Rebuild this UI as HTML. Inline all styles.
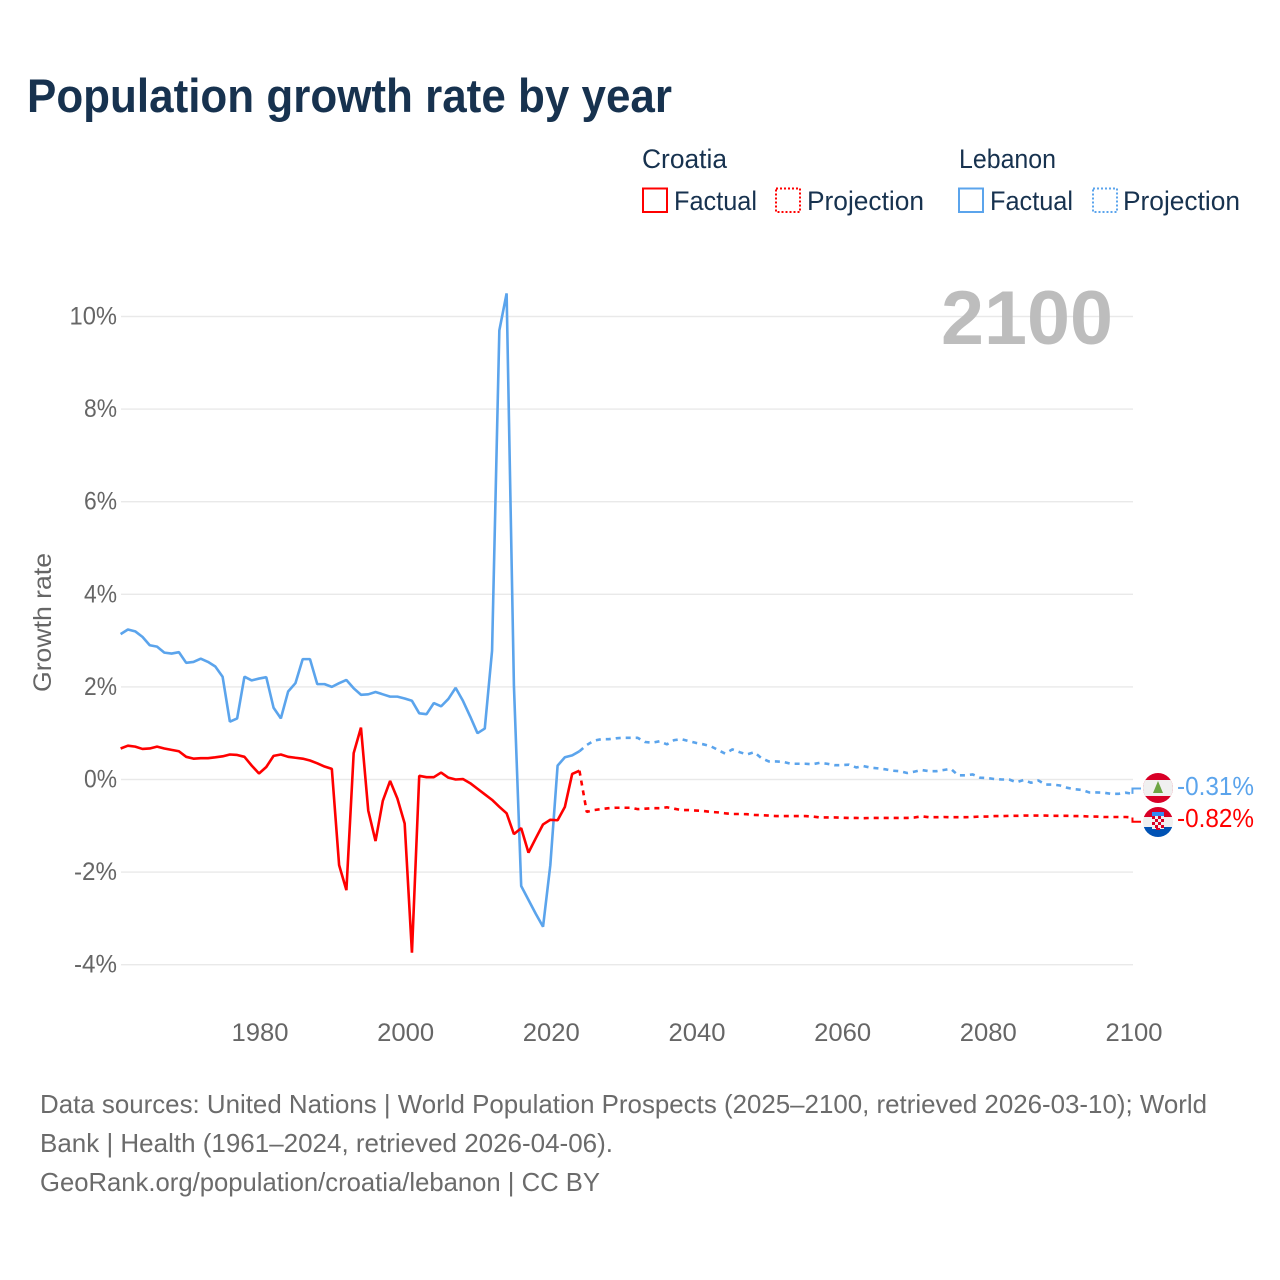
<!DOCTYPE html>
<html lang="en">
<head>
<meta charset="utf-8">
<title>Population growth rate by year</title>
<style>
html,body{margin:0;padding:0;background:#fff;}
svg{display:block;font-family:"Liberation Sans",sans-serif;}
</style>
</head>
<body>
<svg id="chart" width="1280" height="1280" viewBox="0 0 1280 1280" xmlns="http://www.w3.org/2000/svg">
  <defs>
    <clipPath id="flag-clip-lb"><circle cx="1158" cy="788" r="15"/></clipPath>
    <clipPath id="flag-clip-hr"><circle cx="1158" cy="822" r="15"/></clipPath>
  </defs>
  <text x="27" y="112" font-size="47" font-weight="700" fill="#17324f" textLength="645" lengthAdjust="spacingAndGlyphs">Population growth rate by year</text>

  <g font-size="27" fill="#17324f">
    <text x="642" y="168" textLength="85" lengthAdjust="spacingAndGlyphs">Croatia</text>
    <text x="959" y="168" textLength="97" lengthAdjust="spacingAndGlyphs">Lebanon</text>
    <rect x="643" y="188.5" width="24" height="23.5" fill="none" stroke="#ff0000" stroke-width="2"/>
    <text x="674" y="210" textLength="83" lengthAdjust="spacingAndGlyphs">Factual</text>
    <rect x="776" y="188.5" width="24" height="23.5" fill="none" stroke="#ff0000" stroke-width="2" stroke-dasharray="2,2"/>
    <text x="807" y="210" textLength="117" lengthAdjust="spacingAndGlyphs">Projection</text>
    <rect x="959" y="188.5" width="24" height="23.5" fill="none" stroke="#5ba4ec" stroke-width="2"/>
    <text x="990" y="210" textLength="83" lengthAdjust="spacingAndGlyphs">Factual</text>
    <rect x="1093" y="188.5" width="24" height="23.5" fill="none" stroke="#5ba4ec" stroke-width="2" stroke-dasharray="2,2"/>
    <text x="1123" y="210" textLength="117" lengthAdjust="spacingAndGlyphs">Projection</text>
  </g>

  <g id="grid"></g>
  <text x="941" y="344" font-size="76" font-weight="700" fill="#bdbdbd" textLength="172" lengthAdjust="spacingAndGlyphs">2100</text>
  <text transform="translate(51,692) rotate(-90)" x="0" y="0" font-size="25" fill="#666666" textLength="139" lengthAdjust="spacingAndGlyphs">Growth rate</text>
  <g id="y-ticks" font-size="25" fill="#666666"></g>
  <g id="x-ticks" font-size="25" fill="#666666"></g>
  <g id="series"></g>

  <g clip-path="url(#flag-clip-lb)">
    <rect x="1143" y="773" width="30" height="30" fill="#d80027"/>
    <rect x="1143" y="780" width="30" height="16" fill="#f0f0f0"/>
    <polygon points="1158,781 1163,793 1153,793" fill="#6da544"/>
  </g>
  <g clip-path="url(#flag-clip-hr)">
    <rect x="1143" y="807" width="30" height="10" fill="#d80027"/>
    <rect x="1143" y="817" width="30" height="10" fill="#f0f0f0"/>
    <rect x="1143" y="827" width="30" height="10" fill="#0052b4"/>
    <rect x="1152" y="812" width="12" height="4" fill="#338af3"/>
    <rect x="1152" y="816" width="12" height="13" fill="#f0f0f0"/>
    <path d="M1152 816h3v3h-3zM1158 816h3v3h-3zM1155 819h3v3h-3zM1161 819h3v3h-3zM1152 822h3v3h-3zM1158 822h3v3h-3zM1155 825h3v3h-3zM1161 825h3v3h-3zM1156 828h4v2h-4z" fill="#d80027"/>
  </g>
  <text x="1177" y="795" font-size="26" fill="#5ba4ec" textLength="77" lengthAdjust="spacingAndGlyphs">-0.31%</text>
  <text x="1177" y="827" font-size="26" fill="#ff0000" textLength="77" lengthAdjust="spacingAndGlyphs">-0.82%</text>

  <g font-size="26" fill="#6b6b6b">
    <text x="40" y="1113" textLength="1167" lengthAdjust="spacingAndGlyphs">Data sources: United Nations | World Population Prospects (2025–2100, retrieved 2026-03-10); World</text>
    <text x="40" y="1152" textLength="573" lengthAdjust="spacingAndGlyphs">Bank | Health (1961–2024, retrieved 2026-04-06).</text>
    <text x="40" y="1191" textLength="560" lengthAdjust="spacingAndGlyphs">GeoRank.org/population/croatia/lebanon | CC BY</text>
  </g>
</svg>
<script>
const firstFactualYear = 1961;
const firstProjectionYear = 2025;
const yTickValues = [10, 8, 6, 4, 2, 0, -2, -4];
const yTickLabels = ["10%", "8%", "6%", "4%", "2%", "0%", "-2%", "-4%"];
const xTickLabels = ["1980", "2000", "2020", "2040", "2060", "2080", "2100"];

const croatiaFactual = [
  0.67, 0.73, 0.71, 0.66, 0.67, 0.71, 0.67, 0.64, 0.61, 0.49,
  0.45, 0.46, 0.46, 0.48, 0.50, 0.54, 0.53, 0.49, 0.30, 0.13,
  0.27, 0.51, 0.54, 0.49, 0.47, 0.45, 0.41, 0.35, 0.28, 0.23,
  -1.85, -2.39, 0.57, 1.12, -0.67, -1.33, -0.46, -0.03, -0.41, -0.95,
  -3.74, 0.08, 0.05, 0.05, 0.15, 0.04, 0.00, 0.01, -0.08, -0.20,
  -0.32, -0.44, -0.59, -0.73, -1.18, -1.05, -1.58, -1.27, -0.97, -0.87,
  -0.88, -0.59, 0.12, 0.19
];
const croatiaProjection = [
  -0.70, -0.66, -0.64, -0.62, -0.61, -0.61, -0.61, -0.64, -0.63, -0.62,
  -0.62, -0.60, -0.63, -0.66, -0.66, -0.67, -0.68, -0.70, -0.71, -0.73,
  -0.745, -0.745, -0.75, -0.765, -0.77, -0.78, -0.79, -0.79, -0.79, -0.79,
  -0.79, -0.80, -0.82, -0.82, -0.82, -0.825, -0.83, -0.83, -0.835, -0.83,
  -0.83, -0.83, -0.83, -0.83, -0.83, -0.82, -0.795, -0.815, -0.815, -0.81,
  -0.815, -0.815, -0.815, -0.81, -0.80, -0.80, -0.79, -0.79, -0.785, -0.785,
  -0.78, -0.78, -0.78, -0.78, -0.785, -0.785, -0.785, -0.79, -0.79, -0.80,
  -0.80, -0.81, -0.81, -0.81, -0.81, -0.82
];
const lebanonFactual = [
  3.14, 3.24, 3.20, 3.08, 2.90, 2.87, 2.74, 2.72, 2.75, 2.52,
  2.54, 2.61, 2.54, 2.44, 2.22, 1.25, 1.32, 2.22, 2.14, 2.18,
  2.21, 1.55, 1.32, 1.90, 2.08, 2.60, 2.60, 2.06, 2.06, 2.00,
  2.08, 2.15, 1.97, 1.83, 1.84, 1.89, 1.84, 1.79, 1.79, 1.75,
  1.70, 1.43, 1.41, 1.65, 1.58, 1.74, 1.98, 1.70, 1.36, 1.00,
  1.10, 2.78, 9.70, 10.50, 2.04, -2.30, -2.60, -2.90, -3.18, -1.85,
  0.30, 0.48, 0.52, 0.61
];
const lebanonProjection = [
  0.745, 0.84, 0.87, 0.87, 0.89, 0.90, 0.90, 0.90, 0.81, 0.795,
  0.825, 0.76, 0.85, 0.87, 0.83, 0.79, 0.76, 0.72, 0.64, 0.56,
  0.65, 0.59, 0.54, 0.59, 0.46, 0.39, 0.39, 0.38, 0.34, 0.34,
  0.34, 0.33, 0.36, 0.34, 0.31, 0.31, 0.32, 0.26, 0.29, 0.255,
  0.24, 0.22, 0.19, 0.18, 0.14, 0.17, 0.205, 0.18, 0.18, 0.205,
  0.23, 0.09, 0.09, 0.11, 0.04, 0.03, 0.01, 0.00, 0.00, -0.06,
  -0.01, -0.07, -0.02, -0.11, -0.11, -0.13, -0.18, -0.21, -0.225, -0.28,
  -0.28, -0.285, -0.31, -0.31, -0.285, -0.31
];

const SVG_NS = "http://www.w3.org/2000/svg";
const RED = "#ff0000";
const BLUE = "#5ba4ec";
function xScale(year) { return 260 + (year - 1980) * 7.283; }
function xSeries(year) { return xScale(year) - 1; }
function yScale(value) { return 779.5 - value * 46.3; }
function make(tag, attrs, parent) {
  const el = document.createElementNS(SVG_NS, tag);
  Object.keys(attrs).forEach(function (k) { el.setAttribute(k, attrs[k]); });
  parent.appendChild(el);
  return el;
}
function yLabelWidth(label) {
  const digits = label.replace(/[^0-9]/g, "").length;
  return 14.5 * digits + 18.5 + (label.charAt(0) === "-" ? 10 : 0);
}
function pointsFor(startYear, values) {
  return values.map(function (v, i) {
    return xSeries(startYear + i).toFixed(2) + "," + yScale(v).toFixed(2);
  });
}

const gridLayer = document.getElementById("grid");
const yLayer = document.getElementById("y-ticks");
const xLayer = document.getElementById("x-ticks");
const seriesLayer = document.getElementById("series");

yTickValues.forEach(function (v, i) {
  const line = make("line", { x1: 121, x2: 1133, y1: yScale(v), y2: yScale(v), stroke: "#e9e9e9", "stroke-width": 1.4 }, gridLayer);
  
  
  const label = make("text", {
    x: 117, y: yScale(v) + 8, "text-anchor": "end",
    textLength: yLabelWidth(yTickLabels[i]), lengthAdjust: "spacingAndGlyphs"
  }, yLayer);
  label.textContent = yTickLabels[i];
  
  
});

xTickLabels.forEach(function (t) {
  const label = make("text", {
    x: xScale(Number(t)), y: 1041, "text-anchor": "middle",
    textLength: 57, lengthAdjust: "spacingAndGlyphs"
  }, xLayer);
  label.textContent = t;
  
  
});

function drawSeries(name, color, factual, projection, leaderY) {
  const factualPts = pointsFor(firstFactualYear, factual);
  const projPts = pointsFor(firstProjectionYear, projection);
  const lastFactual = factualPts[factualPts.length - 1];

  const solid = make("polyline", {
    points: factualPts.join(" "), fill: "none", stroke: color,
    "stroke-width": 2.6, "stroke-linejoin": "bevel"
  }, seriesLayer);
  
  

  const dashed = make("polyline", {
    points: [lastFactual].concat(projPts).join(" "), fill: "none", stroke: color,
    "stroke-width": 2.6, "stroke-dasharray": "5,5", "stroke-linejoin": "bevel"
  }, seriesLayer);
  
  

  const endX = xSeries(firstProjectionYear + projection.length - 1) - 0.5;
  const endY = yScale(projection[projection.length - 1]);
  const leader = make("path", {
    d: "M" + endX + " " + endY + " V" + leaderY + " H1141",
    fill: "none", stroke: color, "stroke-width": 2
  }, seriesLayer);
  
  
}

drawSeries("lebanon", BLUE, lebanonFactual, lebanonProjection, 788.5);
drawSeries("croatia", RED, croatiaFactual, croatiaProjection, 821.8);
</script>
</body>
</html>
